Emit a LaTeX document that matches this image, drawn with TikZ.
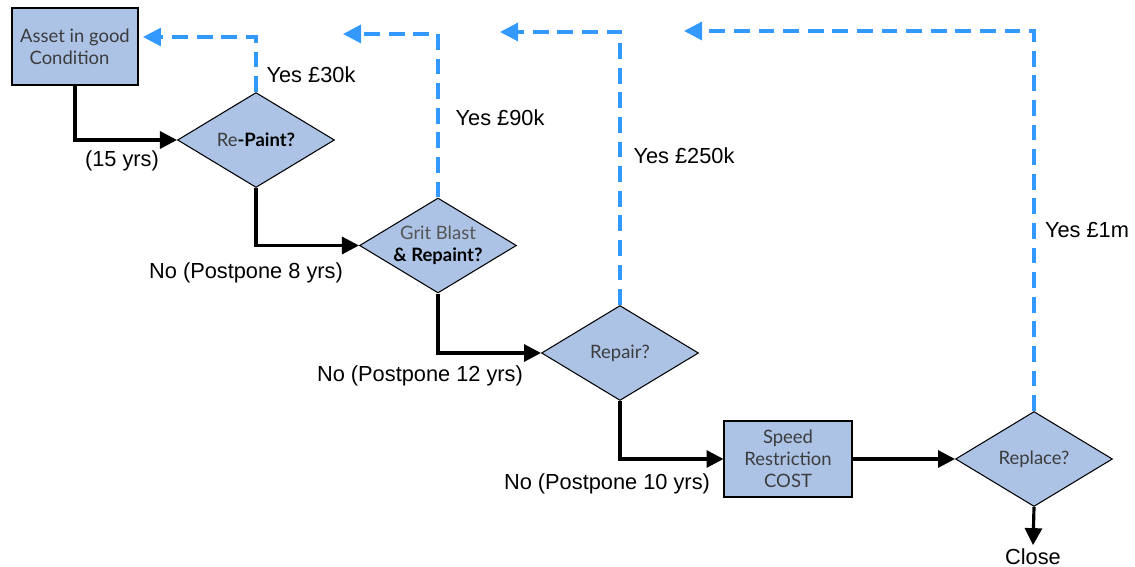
\documentclass[tikz,border=0pt]{standalone}
\usepackage{fontspec}
\setmainfont{Liberation Sans}
\newfontfamily\boxfont{Lato}
\usepackage{xcolor}
\usepackage{tikz}
\usetikzlibrary{shapes.geometric, arrows.meta, positioning, calc}

\definecolor{boxblue}{RGB}{172,195,230}
\definecolor{yesblue}{RGB}{51,153,255}
\definecolor{boxtext}{RGB}{60,60,60}

\begin{document}
\begin{tikzpicture}[
    x=0.02cm, y=-0.02cm,
    stage/.style={rectangle, draw=black, line width=0.6pt, fill=boxblue,
                  minimum width=2.52cm, minimum height=1.54cm, inner sep=1pt,
                  align=center, text=boxtext, font=\boxfont\fontsize{10.5}{12.5}\selectfont},
    decision/.style={diamond, draw=black, line width=0.6pt, fill=boxblue,
                     shape aspect=1.67, minimum width=3.14cm, minimum height=1.9cm,
                     inner sep=0pt, align=center, text=boxtext,
                     font=\boxfont\fontsize{10.5}{12.5}\selectfont},
    lbl/.style={font=\fontsize{12.4}{14}\selectfont, inner sep=1pt},
    noarrow/.style={-{Triangle[length=0.34cm, width=0.34cm]}, line width=1.8pt},
    yesarrow/.style={-{Triangle[length=0.36cm, width=0.36cm]}, line width=1.8pt,
                     yesblue, dash pattern=on 9pt off 5pt}
]
\useasboundingbox (0,0) rectangle (1135,567);

% Stages and decisions
\node[stage, minimum width=2.52cm, minimum height=1.54cm, align=left] (asset) at (75,46.5)
      {Asset in good\\\ \ Condition};
\node[decision] (repaint) at (256,140) {Re\textbf{\color{black}-Paint?}};
\node[decision] (grit)    at (438,245.5) {{\color[RGB]{85,85,85}Grit Blast}\\\textbf{\color{black}\& Repaint?}};
\node[decision] (repair)  at (620,353) {Repair?};
\node[stage, minimum width=2.56cm, minimum height=1.52cm] (speed) at (788,459)
      {Speed\\Restriction\\COST};
\node[decision] (replace) at (1034,459) {Replace?};
\node[lbl, inner sep=2pt] (close) at (1033,557) {Close};

% "No" path
\draw[noarrow] (asset.south) |- (repaint.west);
\draw[noarrow] (repaint.south) |- (grit.west);
\draw[noarrow] (grit.south) |- (repair.west);
\draw[noarrow] (repair.south) |- (speed.west);
\draw[noarrow] (speed.east) -- (replace.west);
\draw[noarrow] (replace.south) -- (close.north);

\node[lbl] (lbl15) at (122,161) {(15 yrs)};
\node[lbl] (lbl8)  at (246,273) {No (Postpone 8 yrs)};
\node[lbl] (lbl12) at (420,376) {No (Postpone 12 yrs)};
\node[lbl] (lbl10) at (607,484) {No (Postpone 10 yrs)};

% "Yes" returns
\coordinate (back1) at (143,37);
\coordinate (back2) at (343,34);
\coordinate (back3) at (500,32);
\coordinate (back4) at (684,31);

\draw[yesarrow] (repaint.north) |- (back1);
\draw[yesarrow] (grit.north) |- (back2);
\draw[yesarrow] (repair.north) |- (back3);
\draw[yesarrow] (replace.north) |- (back4);

\node[lbl] (yes30)  at (311,75)  {Yes £30k};
\node[lbl] (yes90)  at (500,118) {Yes £90k};
\node[lbl] (yes250) at (684,156) {Yes £250k};
\node[lbl] (yes1m)  at (1087,230) {Yes £1m};

\end{tikzpicture}
\end{document}
